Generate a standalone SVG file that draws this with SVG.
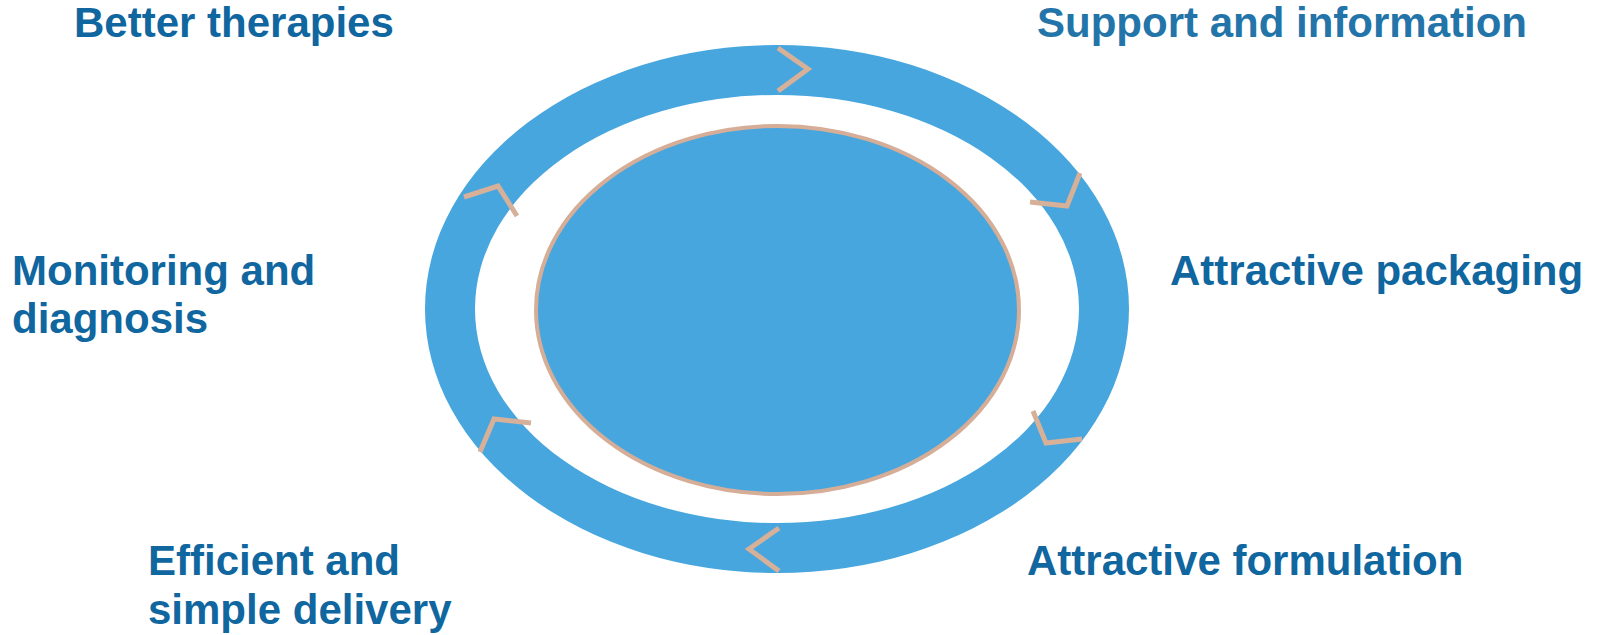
<svg xmlns="http://www.w3.org/2000/svg" width="1598" height="635" viewBox="0 0 1598 635">
<style>
.lbl{font-family:"Liberation Sans",Arial,sans-serif;font-weight:bold;font-size:42px;fill:#10669F}
.chev{fill:none;stroke:#D6B099;stroke-width:5;stroke-linejoin:miter}
</style>
<rect width="1598" height="635" fill="#FFFFFF"/>
<g id="ring">
<path fill="#48A6DE" fill-rule="evenodd" d="M425,309 A352,264 0 1,0 1129,309 A352,264 0 1,0 425,309 Z M475,309 A302,214 0 1,0 1079,309 A302,214 0 1,0 475,309 Z"/>
</g>
<g id="center">
<ellipse cx="777.5" cy="310" rx="241.5" ry="184" fill="#48A6DE" stroke="#D6AD96" stroke-width="4"/>
</g>
<g id="connectors">
<polyline class="chev" points="778,48 808,69 778,91"/>
<polyline class="chev" points="1030,202 1067,206 1080,173"/>
<polyline class="chev" points="1033,411 1046,443 1082,439"/>
<polyline class="chev" points="779,528 749,549 779,571"/>
<polyline class="chev" points="531,423 494,419 480,452"/>
<polyline class="chev" points="464,197 498,186 517,216"/>
</g>
<g id="n-better"><text class="lbl" x="74" y="37">Better therapies</text></g>
<g id="n-support"><text class="lbl" x="1037" y="37" style="fill:#2274A9">Support and information</text></g>
<g id="n-packaging"><text class="lbl" x="1170" y="285">Attractive packaging</text></g>
<g id="n-formulation"><text class="lbl" x="1027" y="575">Attractive formulation</text></g>
<g id="n-delivery"><text class="lbl" x="148" y="575">Efficient and</text><text class="lbl" x="148" y="624">simple delivery</text></g>
<g id="n-monitoring"><text class="lbl" x="12" y="285">Monitoring and</text><text class="lbl" x="12" y="333">diagnosis</text></g>
</svg>
